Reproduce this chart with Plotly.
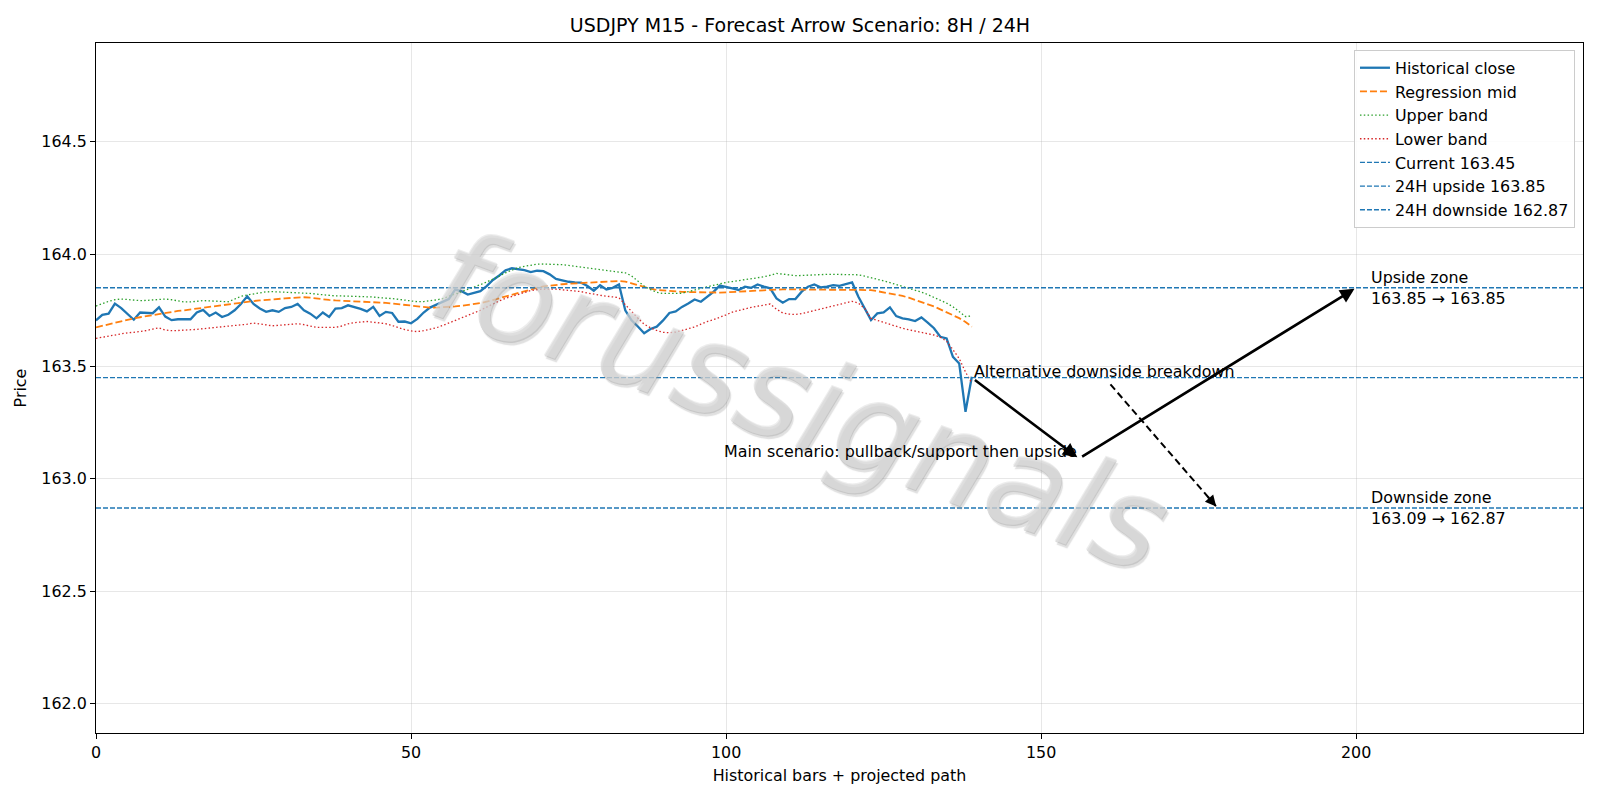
import plotly.graph_objects as go

# ---------------- data ----------------
close = [163.705, 163.730, 163.735, 163.780, 163.760, 163.735, 163.708, 163.740, 163.740, 163.737,
         163.763, 163.722, 163.706, 163.710, 163.710, 163.710, 163.740, 163.752, 163.725, 163.740,
         163.720, 163.730, 163.750, 163.778, 163.812, 163.778, 163.758, 163.743, 163.750, 163.743,
         163.760, 163.765, 163.778, 163.750, 163.735, 163.714, 163.740, 163.720, 163.758, 163.760,
         163.772, 163.765, 163.756, 163.745, 163.765, 163.725, 163.743, 163.738, 163.699, 163.700,
         163.692, 163.712, 163.740, 163.762, 163.775, 163.785, 163.800, 163.842, 163.835, 163.820,
         163.826, 163.835, 163.858, 163.885, 163.905, 163.928, 163.937, 163.934, 163.929, 163.920,
         163.926, 163.924, 163.910, 163.890, 163.882, 163.877, 163.874, 163.873, 163.858, 163.837,
         163.862, 163.843, 163.850, 163.865, 163.750, 163.705, 163.678, 163.648, 163.667, 163.677,
         163.705, 163.738, 163.745, 163.765, 163.780, 163.798, 163.788, 163.810, 163.832, 163.860,
         163.855, 163.848, 163.840, 163.855, 163.850, 163.865, 163.855, 163.848, 163.803, 163.784,
         163.800, 163.800, 163.833, 163.855, 163.865, 163.852, 163.855, 163.862, 163.859, 163.866,
         163.874, 163.810, 163.760, 163.706, 163.736, 163.741, 163.763, 163.724, 163.714, 163.710,
         163.702, 163.718, 163.695, 163.670, 163.632, 163.625, 163.543, 163.513, 163.298, 163.454]

reg_mid = [163.674, 163.681, 163.688, 163.695, 163.702, 163.708, 163.714, 163.719, 163.724, 163.729,
           163.734, 163.739, 163.743, 163.747, 163.750, 163.754, 163.757, 163.761, 163.765, 163.769,
           163.773, 163.777, 163.781, 163.785, 163.788, 163.791, 163.794, 163.797, 163.799, 163.801,
           163.803, 163.805, 163.807, 163.808, 163.806, 163.802, 163.799, 163.796, 163.794, 163.793,
           163.792, 163.791, 163.790, 163.789, 163.787, 163.785, 163.783, 163.780, 163.777, 163.774,
           163.770, 163.765, 163.763, 163.762, 163.762, 163.763, 163.765, 163.767, 163.770, 163.773,
           163.777, 163.782, 163.788, 163.796, 163.804, 163.812, 163.820, 163.828, 163.836, 163.843,
           163.850, 163.856, 163.860, 163.863, 163.866, 163.868, 163.870, 163.872, 163.874, 163.876,
           163.877, 163.878, 163.879, 163.880, 163.878, 163.870, 163.862, 163.853, 163.846, 163.841,
           163.838, 163.836, 163.834, 163.832, 163.831, 163.830, 163.830, 163.829, 163.829, 163.829,
           163.830, 163.831, 163.832, 163.833, 163.835, 163.837, 163.839, 163.841, 163.843, 163.843,
           163.843, 163.843, 163.843, 163.843, 163.843, 163.843, 163.843, 163.843, 163.843, 163.843,
           163.843, 163.843, 163.842, 163.840, 163.835, 163.830, 163.825, 163.820, 163.814, 163.806,
           163.797, 163.788, 163.778, 163.767, 163.754, 163.742, 163.729, 163.715, 163.698, 163.677]

upper_band = [163.769, 163.780, 163.790, 163.797, 163.800, 163.798, 163.795, 163.793, 163.794, 163.796,
              163.798, 163.800, 163.797, 163.792, 163.787, 163.787, 163.790, 163.793, 163.792, 163.790,
              163.789, 163.788, 163.800, 163.812, 163.818, 163.823, 163.828, 163.832, 163.833, 163.832,
              163.831, 163.830, 163.829, 163.827, 163.825, 163.822, 163.819, 163.815, 163.814, 163.814,
              163.813, 163.813, 163.813, 163.811, 163.809, 163.806, 163.805, 163.802, 163.799, 163.795,
              163.791, 163.788, 163.789, 163.792, 163.796, 163.802, 163.812, 163.822, 163.832, 163.842,
              163.853, 163.864, 163.876, 163.888, 163.902, 163.917, 163.930, 163.940, 163.946, 163.951,
              163.955, 163.956, 163.956, 163.955, 163.953, 163.950, 163.946, 163.941, 163.937, 163.933,
              163.929, 163.926, 163.923, 163.920, 163.917, 163.903, 163.880, 163.858, 163.842, 163.830,
              163.825, 163.824, 163.825, 163.826, 163.832, 163.840, 163.848, 163.855, 163.862, 163.868,
              163.874, 163.878, 163.882, 163.885, 163.888, 163.893, 163.899, 163.906, 163.914, 163.911,
              163.907, 163.904, 163.905, 163.907, 163.909, 163.910, 163.910, 163.910, 163.910, 163.911,
              163.911, 163.908, 163.902, 163.896, 163.889, 163.881, 163.873, 163.865, 163.857, 163.849,
              163.840, 163.831, 163.820, 163.808, 163.796, 163.782, 163.766, 163.746, 163.722, 163.725]

lower_band = [163.625, 163.630, 163.636, 163.641, 163.647, 163.650, 163.652, 163.655, 163.660, 163.666,
              163.672, 163.662, 163.659, 163.660, 163.661, 163.662, 163.665, 163.668, 163.671, 163.674,
              163.676, 163.678, 163.680, 163.683, 163.688, 163.693, 163.690, 163.684, 163.681, 163.683,
              163.686, 163.688, 163.690, 163.686, 163.680, 163.674, 163.674, 163.674, 163.674, 163.680,
              163.690, 163.695, 163.698, 163.700, 163.697, 163.693, 163.690, 163.682, 163.672, 163.664,
              163.658, 163.655, 163.659, 163.665, 163.672, 163.682, 163.693, 163.704, 163.714, 163.726,
              163.738, 163.750, 163.764, 163.779, 163.792, 163.803, 163.812, 163.822, 163.832, 163.838,
              163.842, 163.845, 163.845, 163.844, 163.842, 163.840, 163.838, 163.833, 163.827, 163.821,
              163.817, 163.813, 163.810, 163.806, 163.775, 163.743, 163.715, 163.688, 163.672, 163.660,
              163.652, 163.650, 163.653, 163.660, 163.668, 163.676, 163.688, 163.700, 163.708, 163.718,
              163.730, 163.742, 163.750, 163.757, 163.763, 163.768, 163.773, 163.778, 163.755, 163.738,
              163.733, 163.731, 163.735, 163.742, 163.748, 163.756, 163.764, 163.771, 163.778, 163.784,
              163.790, 163.782, 163.758, 163.714, 163.705, 163.695, 163.686, 163.678, 163.670, 163.663,
              163.658, 163.653, 163.648, 163.640, 163.630, 163.612, 163.575, 163.535, 163.475, 163.425]

bars = list(range(len(close)))

current_price = 163.45
upside_24h = 163.85
downside_24h = 162.87

# projected paths (bar index, price)
main_path_x = [139, 156, 200]
main_path_y = [163.45, 163.09, 163.85]
alt_path_x = [161, 178]
alt_path_y = [163.42, 162.87]

upside_zone = (163.85, 163.85)
downside_zone = (163.09, 162.87)
zone_label_x = 202

x_limits = [0, 236]
y_limits = [161.868, 164.94]
x_ticks = [0, 50, 100, 150, 200]
y_ticks = [162.0, 162.5, 163.0, 163.5, 164.0, 164.5]

title_text = "USDJPY M15 - Forecast Arrow Scenario: 8H / 24H"
watermark_text = "forussignals"

# ---------------- styling ----------------
BLUE = "#1f77b4"
ORANGE = "#ff7f0e"
GREEN = "#2ca02c"
RED = "#d62728"
FONT = "DejaVu Sans"
FS = 15.9

fig = go.Figure()

fig.add_trace(go.Scatter(x=bars, y=close, mode="lines", name="Historical close",
                         line=dict(color=BLUE, width=2.3)))
fig.add_trace(go.Scatter(x=bars, y=reg_mid, mode="lines", name="Regression mid",
                         line=dict(color=ORANGE, width=1.8, dash="7px,3px")))
fig.add_trace(go.Scatter(x=bars, y=upper_band, mode="lines", name="Upper band",
                         line=dict(color=GREEN, width=1.3, dash="1.5px,2.3px")))
fig.add_trace(go.Scatter(x=bars, y=lower_band, mode="lines", name="Lower band",
                         line=dict(color=RED, width=1.3, dash="1.5px,2.3px")))

for val, label in [(current_price, f"Current {current_price:.2f}"),
                   (upside_24h, f"24H upside {upside_24h:.2f}"),
                   (downside_24h, f"24H downside {downside_24h:.2f}")]:
    fig.add_trace(go.Scatter(x=x_limits, y=[val, val], mode="lines", name=label,
                             line=dict(color=BLUE, width=1.4, dash="5px,2px")))

# dashed alternative path line
fig.add_trace(go.Scatter(x=alt_path_x, y=alt_path_y, mode="lines", showlegend=False,
                         line=dict(color="black", width=2, dash="7px,4px"), hoverinfo="skip"))

annotations = []
# watermark at figure centre (first so it sits under the other annotations)
ML, MR, MT, MB = 96, 17, 43, 67
W, H = 1600, 800
wx = (W / 2 - ML) / (W - ML - MR)
wy = 1 - (H / 2 - MT) / (H - MT - MB)
annotations.append(dict(x=wx, y=wy, xref="paper", yref="paper", text=watermark_text,
                        showarrow=False, textangle=20, xanchor="center", yanchor="middle",
                        font=dict(family=FONT, size=128, color="rgba(225,225,225,0.6)",
                                  style="italic",
                                  shadow="1px 1px 0px rgba(150,150,150,0.55), "
                                         "3px 3px 1px rgba(140,140,140,0.45)")))

# main scenario arrows
for i in range(len(main_path_x) - 1):
    annotations.append(dict(x=main_path_x[i + 1], y=main_path_y[i + 1],
                            ax=main_path_x[i], ay=main_path_y[i],
                            xref="x", yref="y", axref="x", ayref="y",
                            showarrow=True, arrowhead=2, arrowsize=1.1, arrowwidth=2.6,
                            arrowcolor="black", text="", standoff=2, startstandoff=2))
# alt arrow head (short segment at the end of dashed path)
hx = alt_path_x[0] + (alt_path_x[1] - alt_path_x[0]) * 0.9
hy = alt_path_y[0] + (alt_path_y[1] - alt_path_y[0]) * 0.9
annotations.append(dict(x=alt_path_x[1], y=alt_path_y[1], ax=hx, ay=hy,
                        xref="x", yref="y", axref="x", ayref="y",
                        showarrow=True, arrowhead=2, arrowsize=1.1, arrowwidth=2,
                        arrowcolor="black", text="", standoff=2))

annotations.append(dict(x=main_path_x[1], y=main_path_y[1], xref="x", yref="y",
                        text="Main scenario: pullback/support then upside", showarrow=False,
                        xanchor="right", yanchor="bottom", yshift=-4,
                        font=dict(family=FONT, size=FS, color="black")))
annotations.append(dict(x=main_path_x[0], y=main_path_y[0], xref="x", yref="y",
                        text="Alternative downside breakdown", showarrow=False,
                        xanchor="left", yanchor="bottom", yshift=-5,
                        font=dict(family=FONT, size=FS, color="black")))
annotations.append(dict(x=zone_label_x, y=upside_24h, xref="x", yref="y",
                        text=f"Upside zone<br>{upside_zone[0]:.2f} → {upside_zone[1]:.2f}",
                        showarrow=False, xanchor="left", yanchor="middle", align="left",
                        font=dict(family=FONT, size=FS, color="black")))
annotations.append(dict(x=zone_label_x, y=downside_24h, xref="x", yref="y",
                        text=f"Downside zone<br>{downside_zone[0]:.2f} → {downside_zone[1]:.2f}",
                        showarrow=False, xanchor="left", yanchor="middle", align="left",
                        font=dict(family=FONT, size=FS, color="black")))

fig.update_layout(
    width=W, height=H,
    margin=dict(l=ML, r=MR, t=MT, b=MB),
    paper_bgcolor="white", plot_bgcolor="white",
    font=dict(family=FONT, size=FS, color="black"),
    title=dict(text=title_text, x=0.5, xanchor="center", y=1 - 25.5 / H, yanchor="middle",
               font=dict(family=FONT, size=19, color="black")),
    showlegend=True,
    legend=dict(x=0.9946, y=0.99, xanchor="right", yanchor="top",
                bgcolor="rgba(255,255,255,0.85)", bordercolor="#cccccc", borderwidth=1,
                font=dict(family=FONT, size=FS)),
    annotations=annotations,
)
fig.update_xaxes(range=x_limits, tickvals=x_ticks, ticks="outside", ticklen=5, tickwidth=1,
                 tickcolor="black", showline=True, linecolor="black", linewidth=1, mirror=True,
                 showgrid=True, gridcolor="rgba(176,176,176,0.3)", gridwidth=1, zeroline=False,
                 title=dict(text="Historical bars + projected path", font=dict(size=FS), standoff=8))
fig.update_yaxes(range=y_limits, tickvals=y_ticks, tickformat=".1f", ticks="outside", ticklen=5,
                 tickwidth=1, tickcolor="black", showline=True, linecolor="black", linewidth=1,
                 mirror=True, showgrid=True, gridcolor="rgba(176,176,176,0.3)", gridwidth=1,
                 zeroline=False, title=dict(text="Price", font=dict(size=FS), standoff=10))

fig.write_html("out.html")
